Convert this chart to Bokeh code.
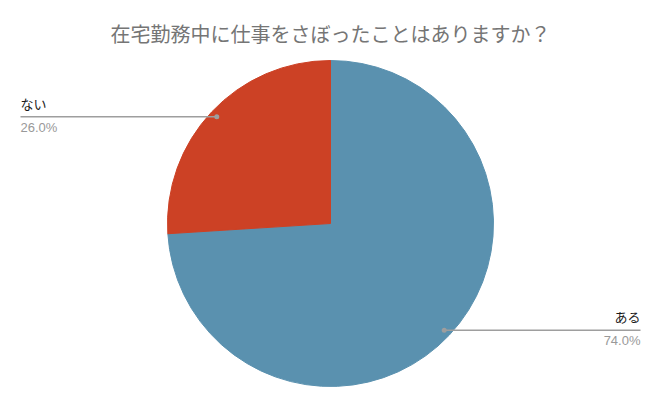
import numpy as np
from bokeh.plotting import figure
from bokeh.models import Range1d
from bokeh.core.properties import value
from bokeh.embed import file_html
from bokeh.resources import INLINE

title_text = "在宅勤務中に仕事をさぼったことはありますか？"
categories = ["ある", "ない"]
percents = [74.0, 26.0]
colors = ["#5a91af", "#cc4125"]

W, H = 644, 392
p = figure(width=W, height=H, output_backend="svg", toolbar_location=None,
           x_range=Range1d(0, W), y_range=Range1d(0, H), min_border=0)
p.axis.visible = False
p.grid.visible = False
p.outline_line_color = None
p.background_fill_color = "white"

def ix(x):
    return x

def iy(y):
    return H - y

cx, cy, R = ix(330), iy(223), 163
vals = np.array(percents) / 100.0
cum = np.concatenate([[0], np.cumsum(vals)])
# clockwise from 12 o'clock
ends = np.pi / 2 - 2 * np.pi * cum[:-1]
starts = np.pi / 2 - 2 * np.pi * cum[1:]
for s, e, c in zip(starts, ends, colors):
    p.wedge(x=cx, y=cy, radius=R, start_angle=s, end_angle=e,
            fill_color=c, line_color=c, line_width=1)

mids = (starts + ends) / 2
rd = 156
for cat, pct, m in zip(categories, percents, mids):
    dx = cx + rd * np.cos(m)
    dy = cy + rd * np.sin(m)
    if np.cos(m) < 0:
        xe = ix(20)
        align = "left"
    else:
        xe = ix(640)
        align = "right"
    p.line([dx, xe], [dy, dy], line_color="#9e9e9e", line_width=1.5)
    p.scatter([dx], [dy], size=5, fill_color="#9e9e9e", line_color=None)
    p.text([xe], [dy + 4], text=[cat], text_align=align, text_baseline="bottom",
           text_font=value("Noto Sans CJK JP"), text_font_size="13px",
           text_color="#1a1a1a", text_font_style="normal")
    p.text([xe], [dy - 3], text=[f"{pct:.1f}%"], text_align=align, text_baseline="top",
           text_font=value("Liberation Sans"), text_font_size="13px",
           text_color="#999999")

p.text([ix(330)], [iy(33)], text=[title_text], text_align="center", text_baseline="middle",
       text_font=value("Noto Sans CJK JP"), text_font_size="20px", text_color="#757575")

open("out.html", "w").write(file_html(p, INLINE))
